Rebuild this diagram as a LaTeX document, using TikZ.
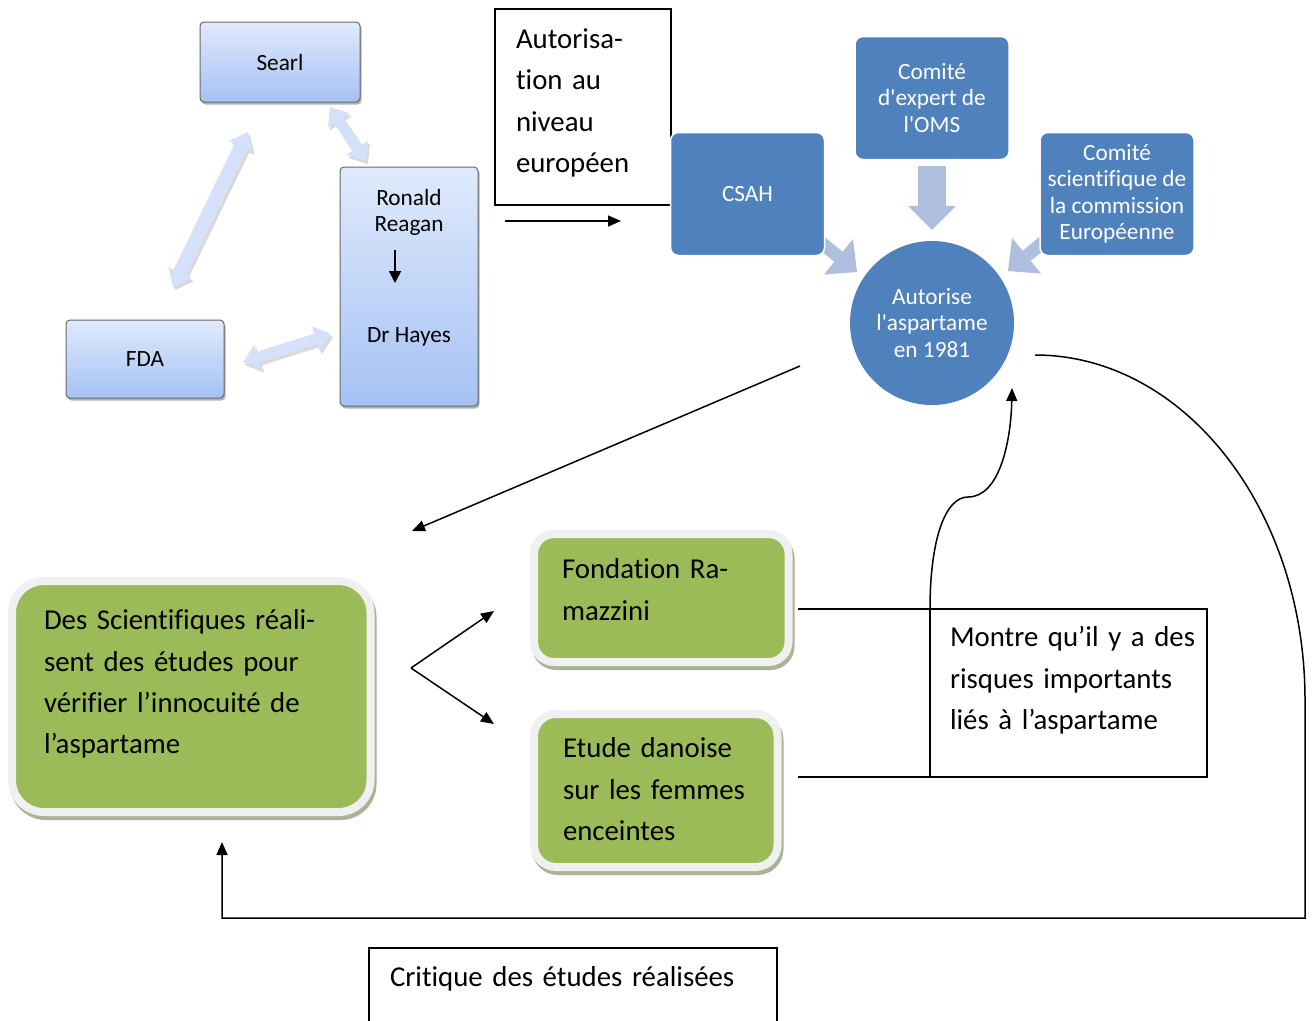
\documentclass[tikz,border=0pt]{standalone}
\usepackage{fontspec}
\setmainfont{Carlito}[Ligatures=CommonOff]
\newfontfamily\carl{Carlito}[Ligatures=CommonOff]
\usetikzlibrary{arrows.meta,shadows,calc}
\definecolor{smblue}{HTML}{4F81BD}
\definecolor{wedgeblue}{HTML}{AEBFDD}
\definecolor{lgtop}{HTML}{E0EAFC}
\definecolor{lgbot}{HTML}{A5C2F4}
\definecolor{boxgray}{HTML}{6A6A6A}
\definecolor{dblblue}{HTML}{D5E1F8}
\definecolor{leafgreen}{HTML}{9BBB59}
\definecolor{framegray}{HTML}{F0F0F0}
\definecolor{greenshadow}{HTML}{ABB396}
\newcommand\smartfont{\carl\fontsize{23.3}{26.5}\selectfont}
\newcommand\docfont{\fontsize{28.8}{41.3}\selectfont}
\begin{document}
\begin{tikzpicture}[x=1pt,y=-1pt,
  lightbox/.style={draw=boxgray, line width=1pt, rounded corners=4pt, top color=lgtop, bottom color=lgbot,
    font=\smartfont, align=center, inner sep=0pt,
    drop shadow={shadow xshift=1.5pt, shadow yshift=-2.5pt, fill=black, opacity=0.3}},
  dbl/.style={draw=dblblue, line width=11pt,
    arrows={Triangle[width=26pt,length=16pt,line width=0pt]-Triangle[width=26pt,length=16pt,line width=0pt]}},
  dblshadow/.style={dbl, draw=black, opacity=0.15},
  smart/.style={fill=smblue, draw=white, line width=1.5pt, rounded corners=8pt, text=white,
    font=\smartfont, align=center, inner sep=0pt},
  wedge/.style={draw=wedgeblue, line width=13pt,
    arrows={-Triangle[width=46pt,length=24pt,line width=0pt]}},
  bigwedge/.style={draw=wedgeblue, line width=28pt,
    arrows={-Triangle[width=48pt,length=24pt,line width=0pt]}},
  txtbox/.style={draw=black, line width=1.5pt, font=\docfont, align=left, inner ysep=0pt, outer sep=0pt},
  leaf/.style={fill=leafgreen, draw=framegray, line width=8pt, align=left, font=\docfont, inner ysep=0pt,
    drop shadow={shadow xshift=2pt, shadow yshift=-4pt, fill=greenshadow, draw=greenshadow, line width=8pt, opacity=1}},
  blk/.style={draw=black, line width=1.5pt},
  blkarrow/.style={blk, -{Triangle[length=13pt,width=11pt]}}
]
\clip (0,0) rectangle (1313,1020);
\fill[white] (0,0) rectangle (1313,1020);

% ---------- left triangle of light-blue boxes ----------
\coordinate (d1a) at (330,107); \coordinate (d1b) at (366,161);
\coordinate (d2a) at (248,132); \coordinate (d2b) at (173,287);
\coordinate (d3a) at (243,362); \coordinate (d3b) at (331,334);
\begin{scope}[transform canvas={shift={(2pt,-3pt)}}]
\draw[dblshadow] (d1a) -- (d1b);
\draw[dblshadow, line width=14pt] (d2a) -- (d2b);
\draw[dblshadow] (d3a) -- (d3b);
\end{scope}
\draw[dbl] (d1a) -- (d1b);
\draw[dbl, line width=14pt] (d2a) -- (d2b);
\draw[dbl] (d3a) -- (d3b);

\node[lightbox, minimum width=160pt, minimum height=80pt] (searl) at (280,62) {Searl};
\node[lightbox, minimum width=138pt, minimum height=239pt] (ronald) at (409,286.5)
  {Ronald\\Reagan\\[84pt]Dr Hayes\rule[-42pt]{0pt}{0pt}};
\node[lightbox, minimum width=158pt, minimum height=78pt] (fda) at (145,359) {FDA};
\coordinate (rrA) at (395,250); \coordinate (rrB) at (395,283);
\draw[line width=1.8pt, -{Triangle[length=12pt,width=12pt]}] (rrA) -- (rrB);

% ---------- Autorisation ----------
\node[txtbox, text width=134pt, inner xsep=21pt, minimum height=196pt] (autor) at (583,107)
  {Autorisa-\\tion au\\niveau\\européen\rule[-13pt]{0pt}{0pt}};
\coordinate (a1) at (505,221); \coordinate (a2) at (621,221);
\draw[blkarrow] (a1) -- (a2);

% ---------- blue smart art ----------
\node[circle, fill=smblue, minimum size=164pt, text=white, font=\smartfont, align=center, inner sep=0pt] (circ)
  at (932,323) {Autorise\\l'aspartame\\en 1981};
\coordinate (w1a) at (818,240); \coordinate (w1b) at (857,272);
\coordinate (w2a) at (1046,240); \coordinate (w2b) at (1008,271);
\draw[wedge] (w1a) -- (w1b);
\draw[wedge] (w2a) -- (w2b);
\node[smart, minimum width=154pt, minimum height=123pt] (csah) at (747.5,194) {CSAH};
\node[smart, minimum width=154pt, minimum height=123pt] (oms) at (932,98) {Comité\\d'expert de\\l'OMS};
\node[smart, minimum width=154pt, minimum height=123pt] (csce) at (1117,194)
  {Comité\\scientifique de\\la commission\\Européenne};
\draw[bigwedge] ($(oms.south)+(0,6)$) -- ($(circ.north)+(0,-11)$);

% ---------- line to the scientists ----------
\coordinate (l1) at (800,366); \coordinate (l2) at (412,531);
\draw[blkarrow] (l1) -- (l2);

% ---------- green boxes ----------
\node[leaf, rounded corners=32pt, text width=294.5pt, inner xsep=32pt, minimum height=231pt] (sci)
  at (191.25,696.5)
  {Des Scientifiques réali-\\sent des études pour\\vérifier l’innocuité de\\l’aspartame\rule[-29.5pt]{0pt}{0pt}};
\node[leaf, rounded corners=20pt, text width=198.5pt, inner xsep=28pt, minimum height=128pt] (ramaz)
  at (661.25,598) {Fondation Ra-\\mazzini\rule[-17pt]{0pt}{0pt}};
\node[leaf, rounded corners=22pt, text width=185.5pt, inner xsep=29pt, minimum height=153pt] (danoise)
  at (655.75,790.5) {\mbox{Etude danoise}\\\mbox{sur les femmes}\\enceintes\rule[-3pt]{0pt}{0pt}};

\coordinate (fork) at (411,668); \coordinate (fa) at (494,611); \coordinate (fb) at (494,724);
\draw[blkarrow] (fork) -- (fa);
\draw[blkarrow] (fork) -- (fb);

% ---------- Montre box ----------
\node[txtbox, line width=2pt, text width=237pt, inner xsep=20pt, minimum height=168pt] (montre) at (1068.5,693)
  {\mbox{Montre qu’il y a des}\\\mbox{risques importants}\\\mbox{liés à l’aspartame}\rule[-30pt]{0pt}{0pt}};
\coordinate (m1) at (798,609); \coordinate (m2) at (798,777);
\draw[blk] (m1) -- (montre.north west);
\draw[blk] (m2) -- (montre.south west);
\coordinate (ctip) at (1012,388);
\draw[blkarrow] (montre.north west) .. controls (930,540) and (945,497) .. (968,497)
  .. controls (1000,497) and (1011,440) .. (ctip);

% ---------- big return loop ----------
\coordinate (loopstart) at (1035,355); \coordinate (loopend) at (222,842);
\draw[blkarrow] (loopstart) arc[start angle=-90, end angle=0, x radius=270, y radius=345]
  -- (1305,918) -| (loopend);

% ---------- Critique box ----------
\node[txtbox, anchor=north west, text width=366pt, inner xsep=21pt, minimum height=90pt] (crit) at (369,948)
  {Critique des études réalisées\rule[-34pt]{0pt}{0pt}};
\end{tikzpicture}
\end{document}
